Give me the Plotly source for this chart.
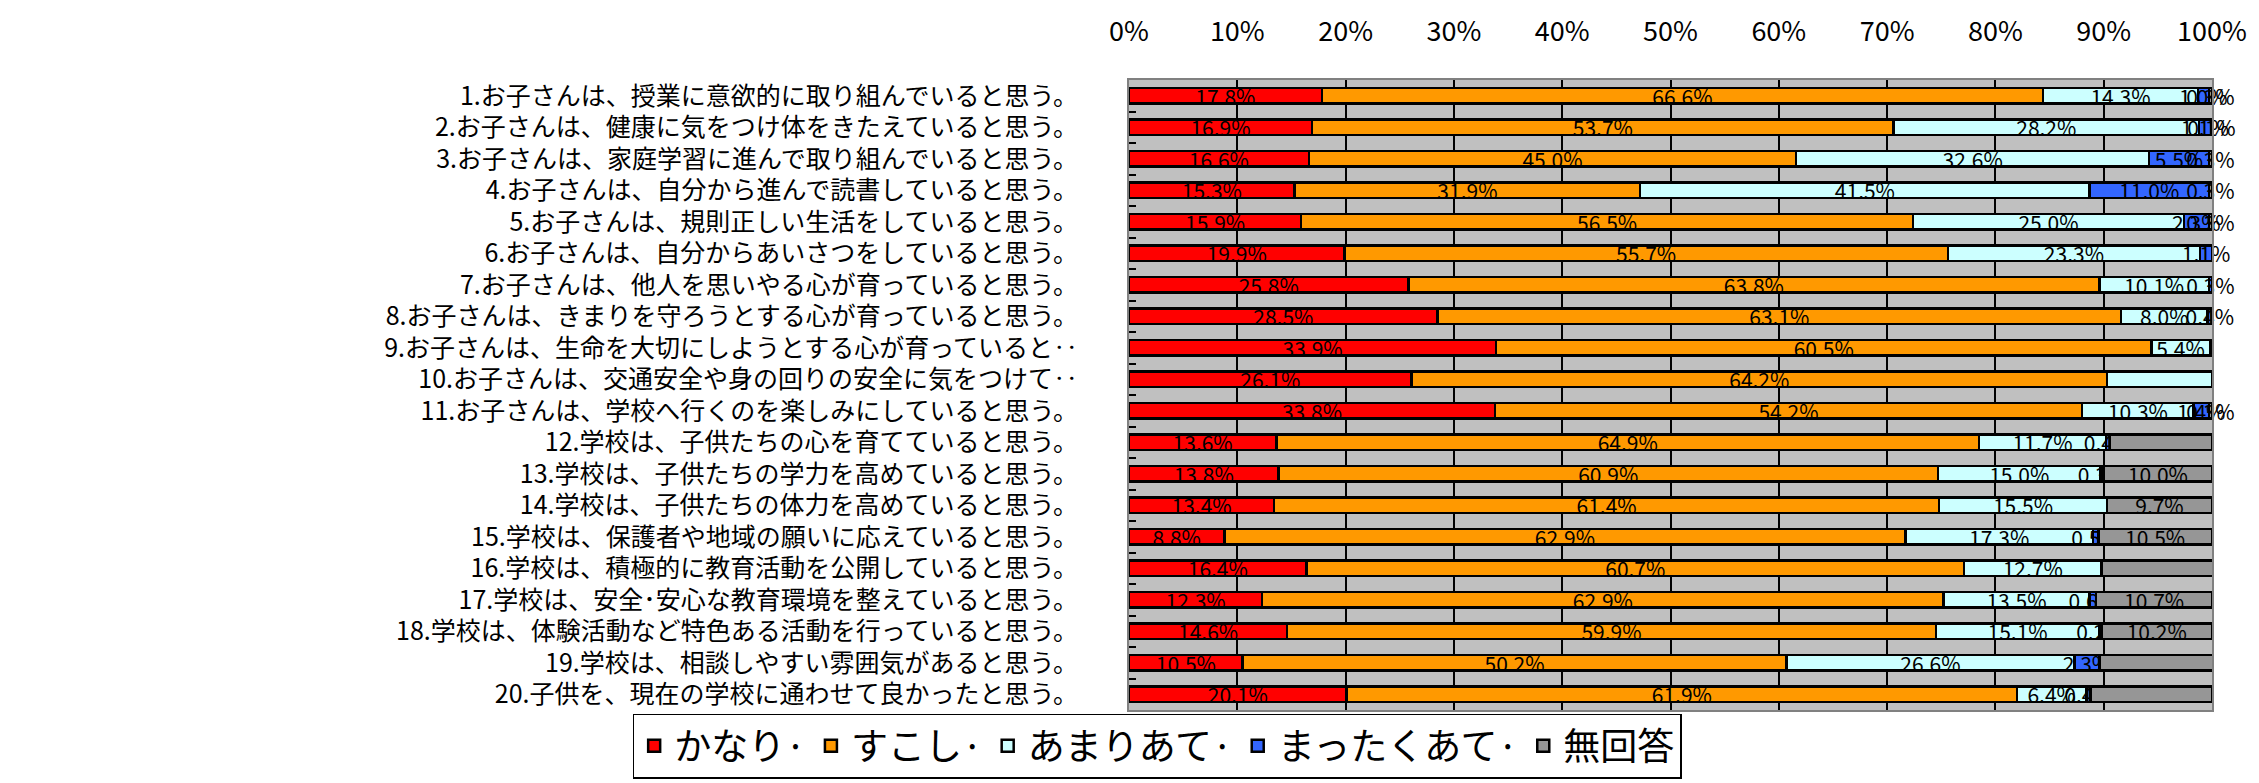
import plotly.graph_objects as go

questions = [
    "1.お子さんは、授業に意欲的に取り組んでいると思う。",
    "2.お子さんは、健康に気をつけ体をきたえていると思う。",
    "3.お子さんは、家庭学習に進んで取り組んでいると思う。",
    "4.お子さんは、自分から進んで読書していると思う。",
    "5.お子さんは、規則正しい生活をしていると思う。",
    "6.お子さんは、自分からあいさつをしていると思う。",
    "7.お子さんは、他人を思いやる心が育っていると思う。",
    "8.お子さんは、きまりを守ろうとする心が育っていると思う。",
    "9.お子さんは、生命を大切にしようとする心が育っていると‥",
    "10.お子さんは、交通安全や身の回りの安全に気をつけて‥",
    "11.お子さんは、学校へ行くのを楽しみにしていると思う。",
    "12.学校は、子供たちの心を育てていると思う。",
    "13.学校は、子供たちの学力を高めていると思う。",
    "14.学校は、子供たちの体力を高めていると思う。",
    "15.学校は、保護者や地域の願いに応えていると思う。",
    "16.学校は、積極的に教育活動を公開していると思う。",
    "17.学校は、安全･安心な教育環境を整えていると思う。",
    "18.学校は、体験活動など特色ある活動を行っていると思う。",
    "19.学校は、相談しやすい雰囲気があると思う。",
    "20.子供を、現在の学校に通わせて良かったと思う。",
]

kanari = [17.8, 16.9, 16.6, 15.3, 15.9, 19.9, 25.8, 28.5, 33.9, 26.1,
          33.8, 13.6, 13.8, 13.4, 8.8, 16.4, 12.3, 14.6, 10.5, 20.1]
sukoshi = [66.6, 53.7, 45.0, 31.9, 56.5, 55.7, 63.8, 63.1, 60.5, 64.2,
           54.2, 64.9, 60.9, 61.4, 62.9, 60.7, 62.9, 59.9, 50.2, 61.9]
amari = [14.3, 28.2, 32.6, 41.5, 25.0, 23.3, 10.1, 8.0, 5.4, 9.7,
         10.3, 11.7, 15.0, 15.5, 17.3, 12.7, 13.5, 15.1, 26.6, 6.4]
mattaku = [1.0, 1.1, 5.5, 11.0, 2.3, 1.1, 0.3, 0.4, 0.2, 0.0,
           1.4, 0.4, 0.3, 0.0, 0.5, 0.0, 0.6, 0.2, 2.3, 0.4]
mukaitou = [0.3, 0.1, 0.3, 0.3, 0.3, 0.0, 0.0, 0.0, 0.0, 0.0,
            0.3, 9.4, 10.0, 9.7, 10.5, 10.3, 10.7, 10.2, 10.5, 11.2]

series = [
    ("かなり·", kanari, "#FF0000"),
    ("すこし·", sukoshi, "#FF9900"),
    ("あまりあて·", amari, "#CCFFFF"),
    ("まったくあて·", mattaku, "#3366FF"),
    ("無回答", mukaitou, "#969696"),
]

font = "Noto Sans CJK JP"

fig = go.Figure()
for name, vals, color in series:
    fig.add_trace(go.Bar(
        y=questions, x=vals, name=name, orientation="h",
        marker=dict(color=color, line=dict(color="black", width=2.5)),
        width=0.5,
        text=[f"{v:.1f}%" for v in vals],
        textposition="inside", insidetextanchor="middle",
        textangle=0, constraintext="none", cliponaxis=False,
        textfont=dict(family=font, size=21, color="black"),
    ))

fig.update_layout(
    barmode="stack",
    width=2259, height=783,
    margin=dict(l=1121, r=55, t=72, b=74),
    paper_bgcolor="white",
    plot_bgcolor="#C0C0C0",
    font=dict(family=font, color="black"),
    legend=dict(
        orientation="h", x=0.026, xanchor="center", y=-0.006, yanchor="top",
        bordercolor="black", borderwidth=1.5, bgcolor="white",
        font=dict(family=font, size=37), traceorder="normal",
        itemwidth=30,
    ),
    xaxis=dict(
        range=[0, 100], dtick=10, ticksuffix="%", side="top",
        showgrid=True, gridcolor="black", gridwidth=1.5, zeroline=False,
        showline=True, linecolor="#808080", linewidth=2, mirror=True,
        tickfont=dict(family=font, size=27), ticklabelstandoff=26,
        automargin=False, fixedrange=True,
    ),
    yaxis=dict(
        autorange="reversed", tickmode="linear", dtick=1,
        ticks="inside", tickson="boundaries",
        ticklen=7, tickcolor="black", tickwidth=1.5,
        showline=True, linecolor="#808080", linewidth=2, mirror=True,
        tickfont=dict(family=font, size=25), ticklabelstandoff=44,
        automargin=False,
    ),
)

fig.write_html("out.html")
